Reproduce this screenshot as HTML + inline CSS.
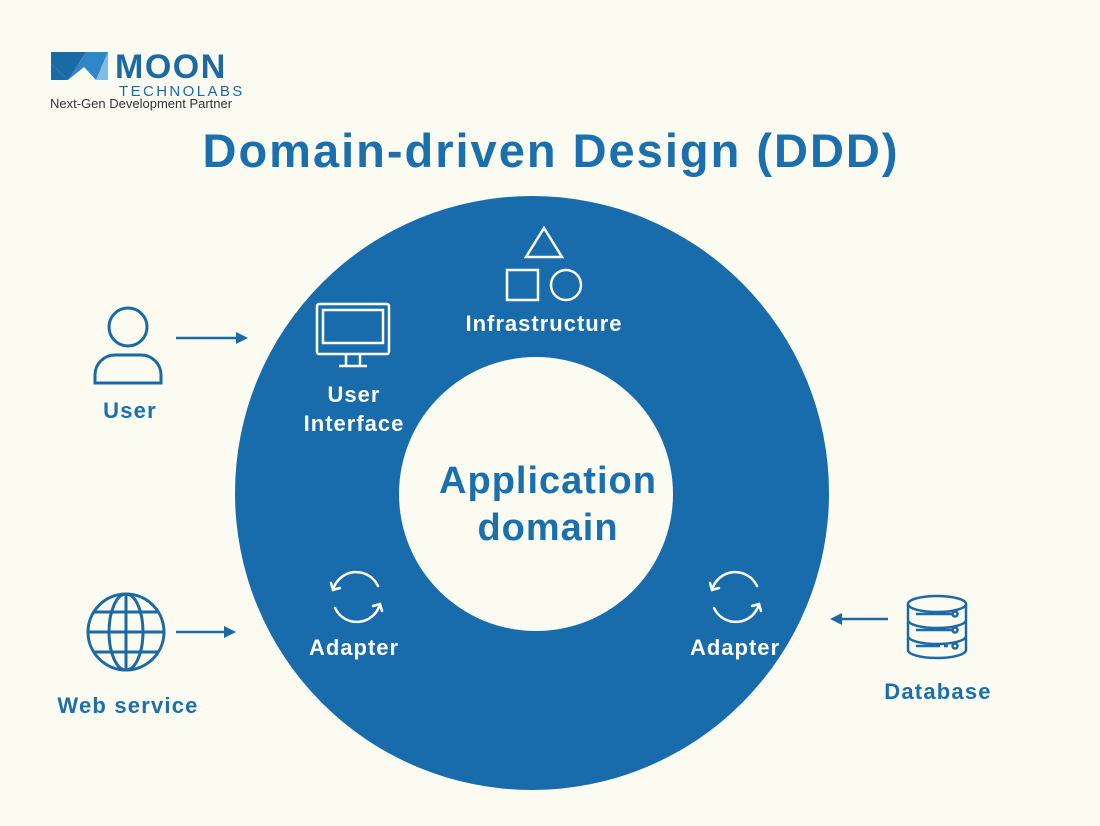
<!DOCTYPE html>
<html><head><meta charset="utf-8"><style>
html,body{margin:0;padding:0;background:#fbfbf1;}
svg{display:block;font-family:"Liberation Sans",sans-serif;}
</style></head><body>
<svg width="1100" height="826" viewBox="0 0 1100 826" xmlns="http://www.w3.org/2000/svg">
<rect width="1100" height="826" fill="#fbfbf1"/>
<!-- logo -->
<polygon points="51,52 86,52 68,80 51,64" fill="#1b6aa5"/>
<polygon points="68,80 86,52 108,52 96,80 84,67" fill="#2f87c7"/>
<polygon points="96,80 108,52 108,80" fill="#7fbde6"/>
<polygon points="51,64 68,80 51,80" fill="#1b6aa5"/>
<text x="115" y="78" font-size="34" font-weight="bold" fill="#1b6aa5" letter-spacing="1.5">MOON</text>
<text x="119" y="96" font-size="15" fill="#1b6aa5" letter-spacing="2.4">TECHNOLABS</text>
<text x="50" y="108" font-size="13" fill="#333">Next-Gen Development Partner</text>
<!-- title -->
<text x="551" y="167" font-size="47" font-weight="bold" fill="#1a6fae" text-anchor="middle" letter-spacing="2">Domain-driven Design (DDD)</text>
<!-- ring -->
<circle cx="532" cy="493" r="297" fill="#186cab"/>
<circle cx="536" cy="494" r="137" fill="#fbfbf1"/>
<g font-weight="bold" text-anchor="middle" letter-spacing="1">
<text x="548" y="493" font-size="38" fill="#1a6fae">Application</text>
<text x="548" y="540" font-size="38" fill="#1a6fae">domain</text>
</g>
<!-- infrastructure icon -->
<g fill="none" stroke="#fff" stroke-width="2.5">
<polygon points="544,228 562,257 526,257"/>
<rect x="507" y="270" width="31" height="30"/>
<circle cx="566" cy="285" r="15"/>
<!-- monitor -->
<rect x="317" y="304" width="72" height="50" rx="2"/>
<rect x="323" y="310" width="60" height="33"/>
<path d="M346 354 v12 M360 354 v12 M339 366 h28"/>
</g>
<g font-size="22" font-weight="bold" fill="#fff" text-anchor="middle" letter-spacing="1">
<text x="544" y="331">Infrastructure</text>
<text x="354" y="402">User</text>
<text x="354" y="431">Interface</text>
<text x="354" y="655">Adapter</text>
<text x="735" y="655">Adapter</text>
</g>
<!-- adapters -->
<g fill="none" stroke="#fff" stroke-width="2.5" stroke-linecap="round">
<path d="M333 590 A24 24 0 0 1 378 586"/><path d="M331 583 l2 7 7 -2"/>
<path d="M380 604 A24 24 0 0 1 335 608"/><path d="M382 611 l-2 -7 -7 2"/>
<path d="M712 590 A24 24 0 0 1 757 586"/><path d="M710 583 l2 7 7 -2"/>
<path d="M759 604 A24 24 0 0 1 714 608"/><path d="M761 611 l-2 -7 -7 2"/>
</g>
<!-- user -->
<g fill="none" stroke="#1b6aa5" stroke-width="3">
<circle cx="128" cy="327" r="19"/>
<path d="M95 383 v-8 a20 20 0 0 1 20 -20 h26 a20 20 0 0 1 20 20 v8 z"/>
<!-- globe -->
<circle cx="126" cy="632" r="38"/>
<ellipse cx="126" cy="632" rx="17" ry="38"/>
<path d="M126 594 v76 M88 632 h76 M94 612 h64 M94 652 h64"/>
</g>
<g font-size="22" font-weight="bold" fill="#1a6fae" text-anchor="middle" letter-spacing="1.2">
<text x="130" y="418">User</text>
<text x="128" y="713">Web service</text>
<text x="938" y="699">Database</text>
</g>
<!-- database -->
<g fill="none" stroke="#1b6aa5" stroke-width="2.5">
<ellipse cx="937" cy="604" rx="29" ry="8"/>
<path d="M908 604 v46 a29 8 0 0 0 58 0 v-46 M908 620 a29 8 0 0 0 58 0 M908 636 a29 8 0 0 0 58 0"/>
<path d="M916 614 h36 M916 630 h36 M916 646 h24 M944 646 h4"/>
<circle cx="955" cy="614" r="2.5"/><circle cx="955" cy="630" r="2.5"/><circle cx="955" cy="646" r="2.5"/>
</g>
<!-- arrows -->
<g stroke="#1b6aa5" stroke-width="2.5" fill="#1b6aa5">
<line x1="176" y1="338" x2="238" y2="338"/><polygon points="248,338 236,332 236,344" stroke="none"/>
<line x1="176" y1="632" x2="226" y2="632"/><polygon points="236,632 224,626 224,638" stroke="none"/>
<line x1="888" y1="619" x2="840" y2="619"/><polygon points="830,619 842,613 842,625" stroke="none"/>
</g>
</svg>
</body></html>
